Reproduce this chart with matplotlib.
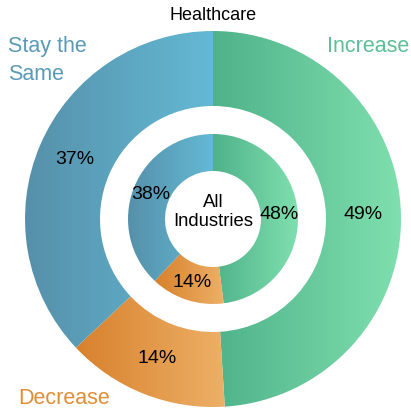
import numpy as np
import matplotlib
matplotlib.use("Agg")
import matplotlib.pyplot as plt
from matplotlib.patches import Wedge
from matplotlib.colors import LinearSegmentedColormap

plt.rcParams['font.family'] = ['Liberation Sans', 'DejaVu Sans']

categories = ["Increase", "Decrease", "Stay the Same"]
healthcare = [49, 14, 37]
all_industries = [48, 14, 38]
title = "Healthcare"
center_label = "All\nIndustries"

# gradient (left -> right) per category
grad_colors = {
    "Increase": ("#4fb28a", "#7fdfae"),
    "Decrease": ("#d8812c", "#edb067"),
    "Stay the Same": ("#5690aa", "#64b9d4"),
}
label_colors = {
    "Increase": "#5cbf98",
    "Decrease": "#e08d38",
    "Stay the Same": "#5a9ab6",
}

W, H = 411, 413
fig = plt.figure(figsize=(W / 100, H / 100), dpi=100)
ax = fig.add_axes([0, 0, 1, 1])
ax.set_xlim(0, W)
ax.set_ylim(0, H)
ax.set_aspect('equal')
ax.axis('off')

cx, cy = 213, H - 219


def draw_ring(values, r_out, r_in, fs):
    total = float(sum(values))
    start = 90.0
    for cat, v in zip(categories, values):
        sweep = 360.0 * v / total
        t1 = start
        t0 = start - sweep
        w = Wedge((cx, cy), r_out, t0, t1, width=r_out - r_in,
                  facecolor='none', edgecolor='none')
        ax.add_patch(w)
        angs = np.radians(np.linspace(t0, t1, 200))
        xs = np.concatenate([cx + r_out * np.cos(angs), cx + r_in * np.cos(angs)])
        ys = np.concatenate([cy + r_out * np.sin(angs), cy + r_in * np.sin(angs)])
        x0, x1 = xs.min(), xs.max()
        y0, y1 = ys.min(), ys.max()
        cmap = LinearSegmentedColormap.from_list(cat, grad_colors[cat])
        grad = np.linspace(0, 1, 256).reshape(1, -1)
        im = ax.imshow(grad, cmap=cmap, extent=(x0, x1, y0, y1),
                       aspect='auto', origin='lower', interpolation='bilinear')
        im.set_clip_path(w)
        mid = np.radians((t0 + t1) / 2)
        rm = (r_out + r_in) / 2
        ax.text(cx + rm * np.cos(mid), cy + rm * np.sin(mid), f"{v}%",
                ha='center', va='center', fontsize=fs, color='black')
        start = t0
    ax.set_xlim(0, W)
    ax.set_ylim(0, H)


draw_ring(healthcare, 188, 113, 14)
draw_ring(all_industries, 85, 48, 14)

ax.text(cx, H - 212, center_label, ha='center', va='center', fontsize=13.3,
        color='black', linespacing=1.2)
ax.text(213, H - 15, title, ha='center', va='center', fontsize=13, color='black')

ax.text(409, H - 47, "Increase", ha='right', va='center', fontsize=15.5,
        color=label_colors["Increase"])
ax.text(8, H - 60.5, "Stay the\nSame", ha='left', va='center', fontsize=15.5,
        color=label_colors["Stay the Same"], linespacing=1.45)
ax.text(18, H - 398, "Decrease", ha='left', va='center', fontsize=15.5,
        color=label_colors["Decrease"])

fig.savefig("out.png", dpi=100)
